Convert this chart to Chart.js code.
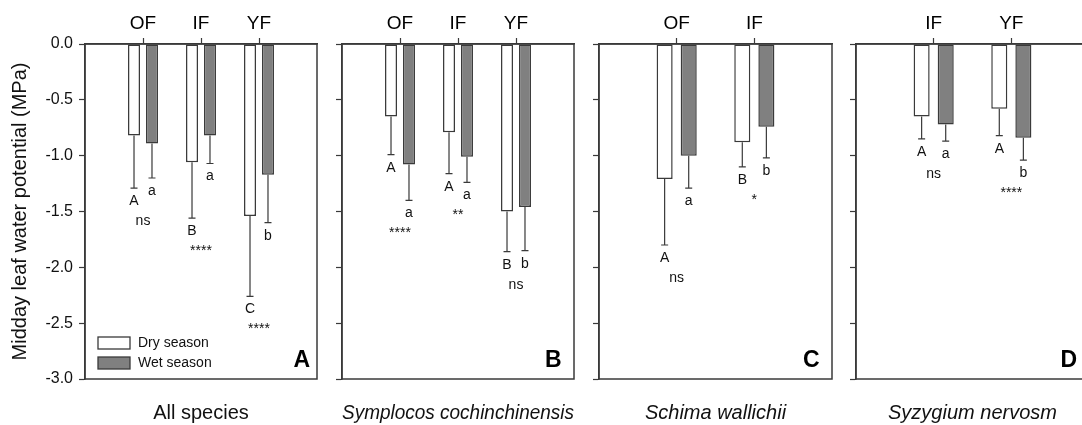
<!DOCTYPE html>
<html>
<head>
<meta charset="utf-8">
<script src="https://cdn.jsdelivr.net/npm/chart.js@4.4.1/dist/chart.umd.min.js"></script>
<style>
html,body{margin:0;padding:0;background:#fff;overflow:hidden;width:1082px;height:425px;position:relative;}
canvas{position:absolute;top:0;}
</style>
</head>
<body>
<canvas id="cA" width="330" height="425" style="left:0px"></canvas>
<canvas id="cB" width="250" height="425" style="left:330px"></canvas>
<canvas id="cC" width="250" height="425" style="left:587px"></canvas>
<canvas id="cD" width="250" height="425" style="left:844px"></canvas>
<script>
// ---------------- data ----------------
const seriesNames = ['Dry season', 'Wet season'];
const yAxisTitle = 'Midday leaf water potential (MPa)';

// Panel A: All species
const catsA = ['OF', 'IF', 'YF'];
const dryA = [-0.82, -1.06, -1.54];
const dryErrA = [0.47, 0.50, 0.72];
const wetA = [-0.89, -0.82, -1.17];
const wetErrA = [0.31, 0.25, 0.43];
const dryLetA = ['A', 'B', 'C'];
const wetLetA = ['a', 'a', 'b'];
const sigA = ['ns', '****', '****'];

// Panel B: Symplocos cochinchinensis
const catsB = ['OF', 'IF', 'YF'];
const dryB = [-0.65, -0.79, -1.50];
const dryErrB = [0.34, 0.37, 0.36];
const wetB = [-1.08, -1.01, -1.46];
const wetErrB = [0.32, 0.23, 0.39];
const dryLetB = ['A', 'A', 'B'];
const wetLetB = ['a', 'a', 'b'];
const sigB = ['****', '**', 'ns'];

// Panel C: Schima wallichii
const catsC = ['OF', 'IF'];
const dryC = [-1.21, -0.88];
const dryErrC = [0.59, 0.22];
const wetC = [-1.00, -0.74];
const wetErrC = [0.29, 0.28];
const dryLetC = ['A', 'B'];
const wetLetC = ['a', 'b'];
const sigC = ['ns', '*'];

// Panel D: Syzygium nervosm
const catsD = ['IF', 'YF'];
const dryD = [-0.65, -0.58];
const dryErrD = [0.20, 0.24];
const wetD = [-0.72, -0.84];
const wetErrD = [0.15, 0.20];
const dryLetD = ['A', 'A'];
const wetLetD = ['a', 'b'];
const sigD = ['ns', '****'];

const yMin = -3.0, yMax = 0.0, yStep = 0.5;

// ---------------- styling ----------------
const FONT = "'Liberation Sans', Arial, Helvetica, sans-serif";
const LINE = '#3a3a3a';
const WET_FILL = '#808080';

function pad(arr) { return [null, ...arr, null]; }

const annotPlugin = {
  id: 'annot',
  afterDatasetsDraw(chart, args, o) {
    const ctx = chart.ctx;
    const ca = chart.chartArea;
    const ys = chart.scales.y, xs = chart.scales.x;
    ctx.save();
    // frame
    ctx.strokeStyle = LINE; ctx.lineWidth = 1.5;
    ctx.strokeRect(ca.left, ca.top, ca.right - ca.left, ca.bottom - ca.top);
    // error bars + letters
    const letterBase = [];
    chart.data.datasets.forEach((ds, di) => {
      const meta = chart.getDatasetMeta(di);
      meta.data.forEach((el, i) => {
        const v = ds.data[i];
        if (v === null || v === undefined) return;
        const k = i - 1;
        const err = ds.errors[k];
        const yEnd = ys.getPixelForValue(v - err);
        ctx.strokeStyle = LINE; ctx.lineWidth = 1.2;
        ctx.beginPath();
        ctx.moveTo(el.x, el.y); ctx.lineTo(el.x, yEnd);
        ctx.moveTo(el.x - 3.5, yEnd); ctx.lineTo(el.x + 3.5, yEnd);
        ctx.stroke();
        const b = yEnd + 17;
        letterBase[k] = Math.max(letterBase[k] || 0, b);
        ctx.fillStyle = '#111';
        ctx.font = '14px ' + FONT;
        ctx.textAlign = 'center'; ctx.textBaseline = 'alphabetic';
        ctx.fillText(ds.letters[k], el.x, b);
      });
    });
    o.sig.forEach((s, k) => {
      const x = xs.getPixelForValue(k + 1);
      ctx.fillStyle = '#111';
      ctx.font = '14px ' + FONT;
      ctx.textAlign = 'center'; ctx.textBaseline = 'alphabetic';
      ctx.fillText(s, x, letterBase[k] + 20);
    });
    // panel letter
    ctx.font = 'bold 23px ' + FONT;
    ctx.textAlign = 'right'; ctx.textBaseline = 'alphabetic';
    ctx.fillStyle = '#000';
    ctx.fillText(o.panel, ca.right - o.inset, ca.bottom - 12.3);
    // legend
    if (o.legend) {
      chart.data.datasets.forEach((ds, di) => {
        const bx = ca.left + 13, by = ca.bottom - 42 + di * 20;
        ctx.fillStyle = ds.backgroundColor;
        ctx.fillRect(bx, by, 32, 12);
        ctx.strokeStyle = LINE; ctx.lineWidth = 1.3;
        ctx.strokeRect(bx, by, 32, 12);
        ctx.fillStyle = '#111';
        ctx.font = '14px ' + FONT;
        ctx.textAlign = 'left'; ctx.textBaseline = 'middle';
        ctx.fillText(ds.label, bx + 40, by + 6.5);
      });
    }
    ctx.restore();
  }
};

function makePanel(id, cats, dry, dryErr, wet, wetErr, dryLet, wetLet, sig, caption, italic, panel, cfg) {
  const labels = ['', ...cats, ''];
  new Chart(document.getElementById(id), {
    type: 'bar',
    data: {
      labels: labels,
      datasets: [
        { label: seriesNames[0], data: pad(dry), errors: dryErr, letters: dryLet,
          backgroundColor: '#ffffff', borderColor: LINE, borderWidth: 1.5, borderSkipped: false },
        { label: seriesNames[1], data: pad(wet), errors: wetErr, letters: wetLet,
          backgroundColor: WET_FILL, borderColor: LINE, borderWidth: 1.5, borderSkipped: false }
      ]
    },
    options: {
      responsive: false,
      devicePixelRatio: 1,
      animation: false,
      events: [],
      categoryPercentage: 0.62,
      barPercentage: 0.667,
      layout: { padding: { left: 0, right: cfg.padRight, top: 0, bottom: 0 } },
      scales: {
        x: {
          type: 'category',
          position: 'top',
          offset: false,
          grid: { display: true, drawOnChartArea: false, offset: false, tickLength: 6,
                  tickColor: c => (c.tick && c.tick.label) ? LINE : 'rgba(0,0,0,0)', tickWidth: 1.2 },
          border: { display: true, color: LINE, width: 1.5 },
          ticks: { color: '#000', font: { family: FONT, size: 19 }, padding: 3, maxRotation: 0, autoSkip: false },
          afterFit: s => { s.height = 44; }
        },
        y: {
          min: yMin, max: yMax,
          grid: { display: true, drawOnChartArea: false, tickLength: 6, tickColor: LINE, tickWidth: 1.2 },
          border: { display: true, color: LINE, width: 1.5 },
          ticks: { display: cfg.showY, stepSize: yStep, color: '#111', padding: 6,
                   font: { family: FONT, size: 16 },
                   callback: v => Number(v).toFixed(1) },
          title: { display: cfg.showY, text: yAxisTitle, color: '#111',
                   font: { family: FONT, size: 20 }, padding: { top: 8, bottom: 0 } },
          afterFit: s => { s.width = cfg.yWidth; }
        }
      },
      plugins: {
        legend: { display: false },
        tooltip: { enabled: false },
        title: {
          display: true, position: 'bottom', fullSize: false, text: caption, color: '#111',
          font: { family: FONT, size: 20, style: italic ? 'italic' : 'normal', weight: 'normal' },
          padding: { top: 22, bottom: 0 }
        },
        annot: { sig: sig, panel: panel, inset: cfg.inset, legend: cfg.legend }
      }
    },
    plugins: [annotPlugin]
  });
}

makePanel('cA', catsA, dryA, dryErrA, wetA, wetErrA, dryLetA, wetLetA, sigA,
  'All species', false, 'A', { padRight: 13, yWidth: 85, showY: true, inset: 7, legend: true });
makePanel('cB', catsB, dryB, dryErrB, wetB, wetErrB, dryLetB, wetLetB, sigB,
  'Symplocos cochinchinensis', true, 'B', { padRight: 6, yWidth: 12, showY: false, inset: 12.5, legend: false });
makePanel('cC', catsC, dryC, dryErrC, wetC, wetErrC, dryLetC, wetLetC, sigC,
  'Schima wallichii', true, 'C', { padRight: 5, yWidth: 12, showY: false, inset: 12.5, legend: false });
makePanel('cD', catsD, dryD, dryErrD, wetD, wetErrD, dryLetD, wetLetD, sigD,
  'Syzygium nervosm', true, 'D', { padRight: 5, yWidth: 12, showY: false, inset: 12, legend: false });
</script>
</body>
</html>
